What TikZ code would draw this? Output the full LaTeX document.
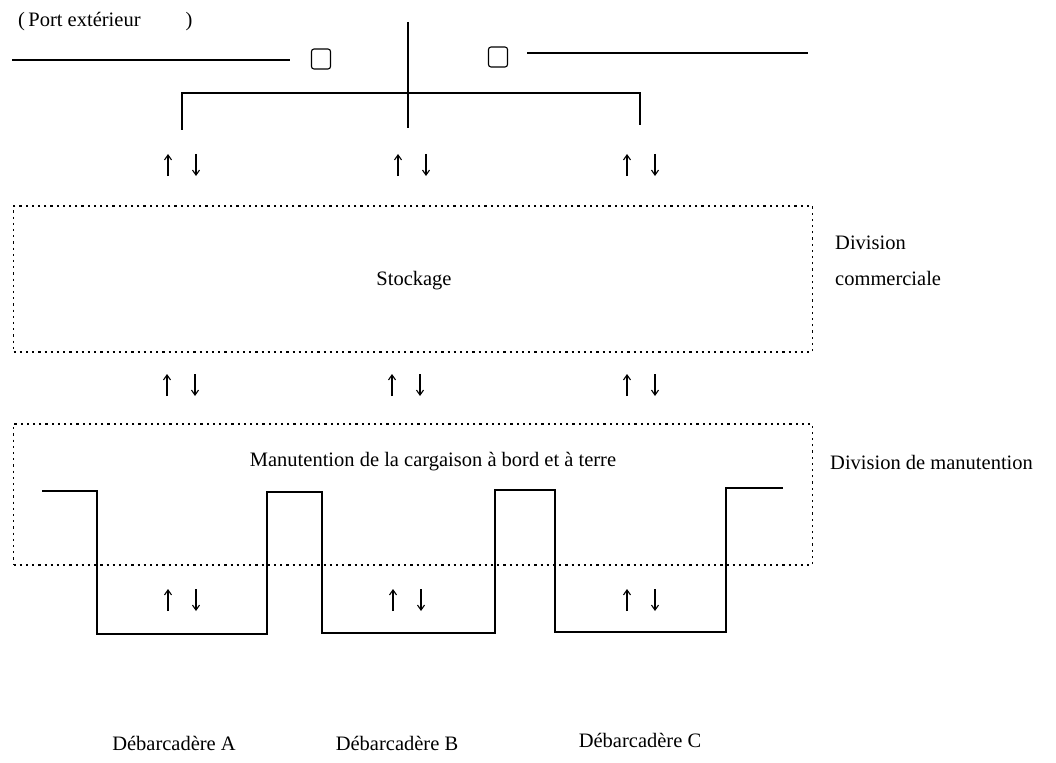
\documentclass[tikz,border=0pt]{standalone}
\usepackage{fontspec}
\setmainfont{Liberation Serif}
\usetikzlibrary{arrows.meta}
\begin{document}
\begin{tikzpicture}[x=1pt,y=-1pt,
  lbl/.style={font=\fontsize{20.5}{23}\selectfont, inner sep=0pt},
  zone/.style={draw, line width=1.1pt, dash pattern=on 2.2pt off 4pt, inner sep=0pt},
  wall/.style={line width=1.1pt},
  sq/.style={draw, line width=1.1pt, rounded corners=2.5pt, minimum width=19pt, minimum height=20pt, inner sep=0pt},
  pile/.style={line width=1.1pt, -{Straight Barb[length=5pt,width=7pt]}},
]
\useasboundingbox[fill=white] (0,0) rectangle (1056,762);
\newcommand\updn[2]{%
  \draw[pile] (#1-14,#2+11) -- (#1-14,#2-11);
  \draw[pile] (#1+14,#2-11) -- (#1+14,#2+11);}

% top
\node[lbl, anchor=west] (port) at (18,22) {(\,Port extérieur\hspace{2.2em})};
\coordinate (tl1) at (12,60);  \coordinate (tl2) at (290,60);
\coordinate (tr1) at (527,53); \coordinate (tr2) at (808,53);
\draw[wall] (tl1) -- (tl2);
\draw[wall] (tr1) -- (tr2);
\node[sq] (sq1) at (321,59) {};
\node[sq] (sq2) at (498,57) {};
\coordinate (v1) at (408,22); \coordinate (v2) at (408,128);
\draw[wall] (v1) -- (v2);
\coordinate (b1) at (182,130); \coordinate (b2) at (182,93);
\coordinate (b3) at (640,93);  \coordinate (b4) at (640,125);
\draw[wall] (b1) -- (b2) -- (b3) -- (b4);

\updn{182}{165}\updn{412}{165}\updn{641}{165}

% Stockage
\node[zone, minimum width=799pt, minimum height=146pt] (stock) at (413,279) {};
\node[lbl] (stocktxt) at (414,281) {Stockage};
\node[lbl, anchor=west] (div1) at (835,243) {Division};
\node[lbl, anchor=west] (div2) at (835,278) {commerciale};

\updn{181}{385}\updn{406}{385}\updn{641}{385}

% Manutention
\node[zone, minimum width=799pt, minimum height=141pt] (manu) at (413,494.5) {};
\node[lbl] (manutxt) at (433,462) {Manutention de la cargaison à bord et à terre};
\node[lbl, anchor=west] (div3) at (830,462) {Division de manutention};

% piers
\draw[wall] (42,491) -- (97,491) -- (97,634) -- (267,634) -- (267,492) -- (322,492)
  -- (322,633) -- (495,633) -- (495,490) -- (555,490) -- (555,632) -- (726,632)
  -- (726,488) -- (783,488);

\updn{182}{600}\updn{407}{600}\updn{641}{600}

\node[lbl] (dA) at (174,743) {Débarcadère A};
\node[lbl] (dB) at (397,743) {Débarcadère B};
\node[lbl] (dC) at (640,740) {Débarcadère C};
\end{tikzpicture}
\end{document}
